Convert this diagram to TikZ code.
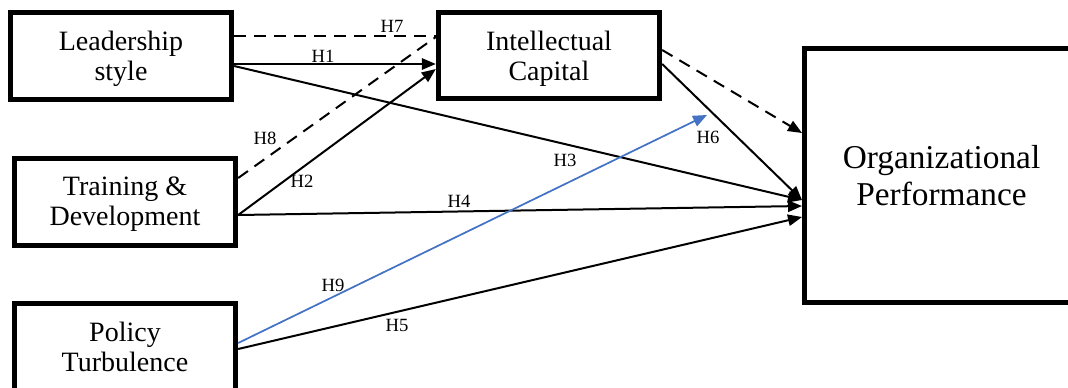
\documentclass[tikz,border=0pt]{standalone}
\usepackage{fontspec}
\setmainfont{Liberation Serif}
\usetikzlibrary{arrows.meta}
\definecolor{hblue}{RGB}{68,114,196}

\begin{document}
\begin{tikzpicture}[x=0.75pt, y=-0.75pt,
        box/.style={draw, line width=3.75pt, minimum width=166pt, minimum height=65pt,
                align=center, font=\fontsize{21}{22.5}\selectfont},
        conn/.style={line width=1.5pt, -{Triangle[length=10.5pt, width=8.5pt]}},
        dline/.style={line width=1.5pt, dash pattern=on 9pt off 6pt},
        hyp/.style={inner sep=0pt, font=\fontsize{14}{15}\selectfont}]
        \clip (0,0) rectangle (1068,387);
        \node[box] (lead) at (121, 56) {\rule{0pt}{19pt}Leadership\\style};
        \node[box] (ic) at (549, 55.5) {\rule{0pt}{19pt}Intellectual\\Capital};
        \node[box] (train) at (125, 202) {\rule{0pt}{17.5pt}Training \&\\Development};
        \node[box] (pol) at (125, 347) {Policy\\Turbulence};
        \node[box, minimum width=205.5pt, minimum height=190.5pt,
                font=\fontsize{25}{27.75}\selectfont] (org) at (941.5, 175.5) {Organizational\\Performance};
        \coordinate (tip) at (707, 115);
        \draw[dline] (lead.east |- 0,36) -- (ic.west |- 0,36);
        \draw[conn] (lead.east |- 0,64) -- (ic.west |- 0,64);
        \draw[conn] (lead.east |- 0,66) -- (org.west |- 0,200);
        \draw[dline] (train.east |- 0,178) -- (ic.west |- 0,37);
        \draw[conn] (train.east |- 0,215) -- (ic.west |- 0,69);
        \draw[conn] (train.east |- 0,215) -- (org.west |- 0,206);
        \draw[conn] (pol.east |- 0,349) -- (org.west |- 0,217);
        \draw[conn, dline] (ic.east |- 0,50) -- (org.west |- 0,133);
        \draw[conn] (ic.east |- 0,64) -- (org.west |- 0,200);
        \draw[hblue, line width=1.3pt, -{Triangle[length=10.5pt, width=8.5pt]}] (pol.east |- 0,343) -- (tip);
        \node[hyp] (h7) at (392, 26) {H7};
        \node[hyp] (h1) at (323, 56) {H1};
        \node[hyp] (h8) at (265, 138) {H8};
        \node[hyp] (h2) at (302, 181) {H2};
        \node[hyp] (h3) at (565, 160) {H3};
        \node[hyp] (h4) at (459, 201) {H4};
        \node[hyp] (h6) at (708, 137) {H6};
        \node[hyp] (h9) at (333, 285) {H9};
        \node[hyp] (h5) at (397, 325) {H5};
\end{tikzpicture}
\end{document}
